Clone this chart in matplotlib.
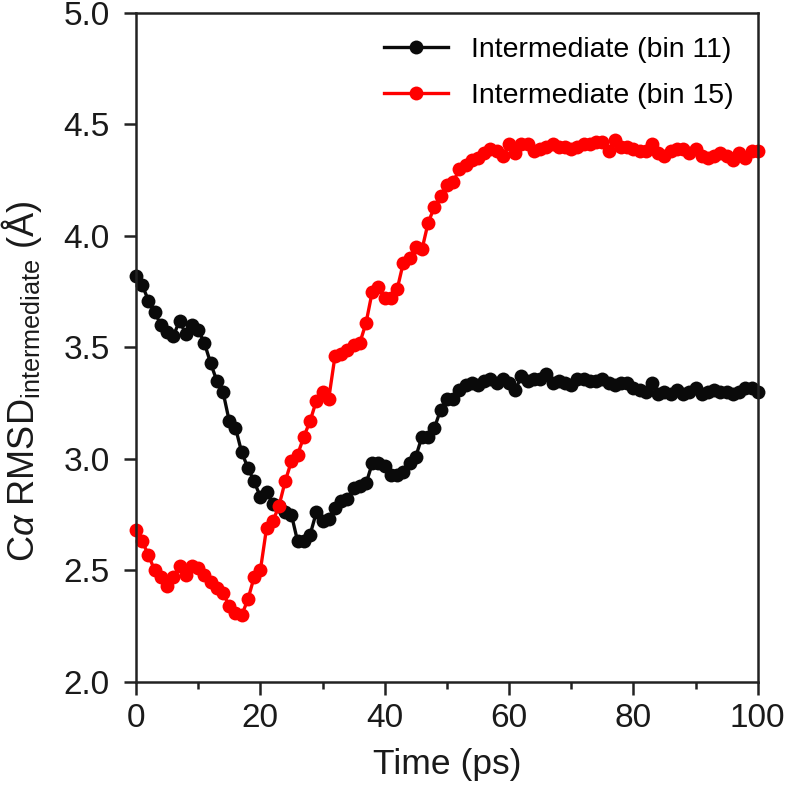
import numpy as np
import matplotlib
matplotlib.use('Agg')
import matplotlib.pyplot as plt

plt.rcParams['font.family'] = ['Liberation Sans', 'DejaVu Sans']
plt.rcParams['mathtext.fontset'] = 'custom'
plt.rcParams['mathtext.rm'] = 'Liberation Sans'
plt.rcParams['mathtext.it'] = 'Liberation Sans:italic'

#-------------------------------------------------------------
# data (1 ps steps)
time_ps = list(range(0, 101))

rmsd_bin11 = [
	3.82, 3.78, 3.71, 3.66, 3.60, 3.57, 3.55, 3.62, 3.56, 3.60,
	3.58, 3.52, 3.43, 3.35, 3.30, 3.17, 3.14, 3.03, 2.96, 2.90,
	2.83, 2.85, 2.80, 2.79, 2.76, 2.75, 2.63, 2.63, 2.66, 2.76,
	2.72, 2.73, 2.78, 2.81, 2.82, 2.87, 2.88, 2.89, 2.98, 2.98,
	2.97, 2.93, 2.93, 2.94, 2.98, 3.01, 3.10, 3.10, 3.14, 3.22,
	3.27, 3.27, 3.31, 3.33, 3.34, 3.33, 3.35, 3.36, 3.34, 3.36,
	3.34, 3.31, 3.37, 3.35, 3.36, 3.36, 3.38, 3.34, 3.35, 3.34,
	3.33, 3.36, 3.36, 3.35, 3.35, 3.36, 3.34, 3.33, 3.34, 3.34,
	3.32, 3.31, 3.30, 3.34, 3.29, 3.30, 3.29, 3.31, 3.29, 3.30,
	3.32, 3.29, 3.30, 3.31, 3.30, 3.30, 3.29, 3.30, 3.32, 3.32,
	3.30]

rmsd_bin15 = [
	2.68, 2.63, 2.57, 2.50, 2.47, 2.43, 2.47, 2.52, 2.48, 2.52,
	2.51, 2.48, 2.45, 2.42, 2.40, 2.34, 2.31, 2.30, 2.37, 2.47,
	2.50, 2.69, 2.72, 2.79, 2.90, 2.99, 3.02, 3.10, 3.17, 3.26,
	3.30, 3.27, 3.46, 3.47, 3.49, 3.51, 3.52, 3.61, 3.75, 3.77,
	3.72, 3.72, 3.76, 3.88, 3.90, 3.95, 3.94, 4.06, 4.13, 4.18,
	4.23, 4.24, 4.30, 4.32, 4.34, 4.35, 4.37, 4.39, 4.38, 4.36,
	4.41, 4.37, 4.41, 4.41, 4.38, 4.39, 4.40, 4.41, 4.40, 4.40,
	4.39, 4.40, 4.41, 4.41, 4.42, 4.42, 4.38, 4.43, 4.40, 4.40,
	4.39, 4.38, 4.38, 4.41, 4.37, 4.36, 4.38, 4.39, 4.39, 4.37,
	4.39, 4.36, 4.35, 4.36, 4.37, 4.36, 4.34, 4.37, 4.35, 4.38,
	4.38]

labels_lst = ['Intermediate (bin 11)', 'Intermediate (bin 15)']
colors_lst = ['#0a0a0a', '#ff0000']

#-------------------------------------------------------------
fig = plt.figure(figsize=(7.87, 7.90), dpi=100)
ax  = fig.add_axes([0.1728, 0.1367, 0.790, 0.847])

for y_lst, lbl, c in zip([rmsd_bin11, rmsd_bin15], labels_lst, colors_lst):
	ax.plot(time_ps, y_lst, color=c, lw=2.4, marker='o', markersize=10,
		markeredgewidth=0, label=lbl, clip_on=False)

ax.set_xlim(0, 100)
ax.set_ylim(2.0, 5.0)
ax.set_xticks(np.arange(0, 101, 20))
ax.set_xticks(np.arange(10, 100, 20), minor=True)
ax.set_yticks(np.arange(2.0, 5.01, 0.5))
ax.set_yticklabels(['%.1f' % v for v in np.arange(2.0, 5.01, 0.5)])

for s in ax.spines.values():
	s.set_linewidth(1.8)
	s.set_color('#222222')
ax.tick_params(which='major', direction='out', length=9, width=1.8,
	color='#222222', labelsize=24, labelcolor='#1a1a1a')
ax.tick_params(axis='x', which='major', pad=6)
ax.tick_params(axis='y', which='major', pad=10)
ax.tick_params(which='minor', direction='out', length=5, width=1.8, color='#222222')

ax.set_xlabel('Time (ps)', fontsize=25.5, color='#1a1a1a')
ax.set_ylabel(r'C$\alpha$ RMSD$_{\mathrm{intermediate}}$ (Å)', fontsize=26,
	color='#1a1a1a')
ax.xaxis.set_label_coords(0.5, -0.098)
ax.yaxis.set_label_coords(-0.148, 0.45)

leg = ax.legend(loc='upper right', frameon=False, fontsize=20.5,
	handlelength=2.25, handletextpad=0.8, labelspacing=0.7,
	borderaxespad=0.4, borderpad=0.45)

plt.savefig('out.png', dpi=100) #save figure to file
